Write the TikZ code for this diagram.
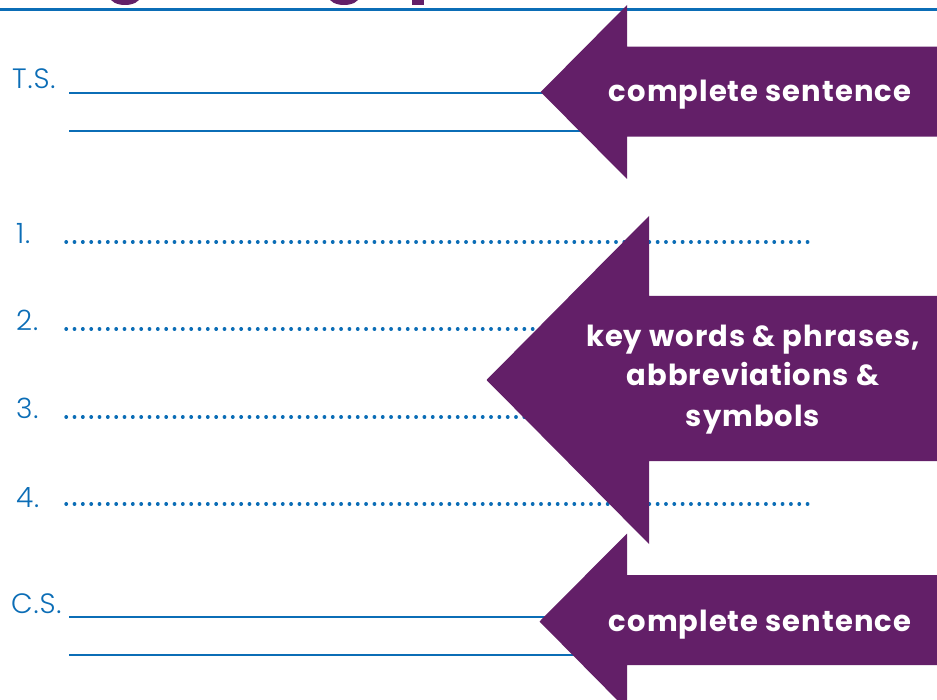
\documentclass[tikz,border=0pt]{standalone}
\usepackage{fontspec}
\IfFontExistsTF{Poppins Light}{\newfontfamily\lightf{Poppins Light}[LetterSpace=3]}{\newfontfamily\lightf{Poppins}[LetterSpace=3]}
\IfFontExistsTF{Poppins Bold}{\newfontfamily\boldf{Poppins Bold}[LetterSpace=3.5]}{\newfontfamily\boldf{Poppins}[BoldFont=*,LetterSpace=3.5]}
\definecolor{pur}{HTML}{631F68}
\definecolor{blu}{HTML}{0B6DB6}
\tikzset{
  rule/.style={draw=blu, line width=2pt},
  dotrule/.style={draw=blu, line width=3.4pt, line cap=round, dash pattern=on 0.4pt off 7.93pt},
  lbl/.style={text=blu, font=\lightf\fontsize{28}{28}\selectfont, anchor=base west, inner sep=0pt},
  arrowtext/.style={text=white, font=\boldf\fontsize{29}{40}\selectfont, align=center, inner sep=0pt},
  arrowfill/.style={fill=pur}
}
\begin{document}
\begin{tikzpicture}[x=1pt,y=-1pt]
\useasboundingbox (0,0) rectangle (937,700);
\clip (0,0) rectangle (937,700);
% title fragments (cut off)
\begin{scope}
\clip (0,0) rectangle (937,8);
\fill[pur] (125,-3) ellipse [x radius=15, y radius=8];
\fill[pur] (344,-3) ellipse [x radius=15, y radius=8];
\fill[pur] (412,-2) rectangle (424,5.5);
\end{scope}
\draw[draw=blu, line width=2.5pt] (0,9.3) -- (937,9.3);

% coordinates
\coordinate (ts1a) at (69,92.7);   \coordinate (ts1b) at (545,92.7);
\coordinate (ts2a) at (69,130.7);  \coordinate (ts2b) at (600,130.7);
\coordinate (d1a) at (66,242);     \coordinate (d1b) at (808,242);
\coordinate (d2a) at (66,329);     \coordinate (d2b) at (600,329);
\coordinate (d3a) at (66,417);     \coordinate (d3b) at (600,417);
\coordinate (d4a) at (66,504);     \coordinate (d4b) at (808,504);
\coordinate (cs1a) at (69,616.7);  \coordinate (cs1b) at (600,616.7);
\coordinate (cs2a) at (69,655);    \coordinate (cs2b) at (600,655);

% writing lines
\draw[rule] (ts1a) -- (ts1b);
\draw[rule] (ts2a) -- (ts2b);
\draw[dotrule] (d1a) -- (d1b);
\draw[dotrule] (d2a) -- (d2b);
\draw[dotrule] (d3a) -- (d3b);
\draw[dotrule] (d4a) -- (d4b);
\draw[rule] (cs1a) -- (cs1b);
\draw[rule] (cs2a) -- (cs2b);

% labels
\node[lbl] (ts) at (12,89) {T.S.};
\node[lbl] (n1) at (16,243.5) {1.};
\node[lbl] (n2) at (16,331) {2.};
\node[lbl] (n3) at (16,418.5) {3.};
\node[lbl] (n4) at (16,507.5) {4.};
\node[lbl] (cs) at (11,613) {C.S.};

% top arrow
\fill[arrowfill] (540.7,92) -- (627,5) -- (627,46.7) -- (937,46.7) -- (937,136.7) -- (627,136.7) -- (627,179) -- cycle;
\node[arrowtext, anchor=base] (top) at (760,101.7) {complete sentence};

% middle arrow
\fill[arrowfill] (486.5,380) -- (649,216) -- (649,296) -- (937,296) -- (937,461) -- (649,461) -- (649,544) -- cycle;
\node[arrowtext, anchor=base] (mid) at (753,426) {key words \& phrases,\\abbreviations \&\\symbols};

% bottom arrow
\fill[arrowfill] (539.5,621.5) -- (627,533.5) -- (627,575) -- (937,575) -- (937,665) -- (627,665) -- (627,710) -- cycle;
\node[arrowtext, anchor=base] (bot) at (760,631) {complete sentence};
\end{tikzpicture}
\end{document}
